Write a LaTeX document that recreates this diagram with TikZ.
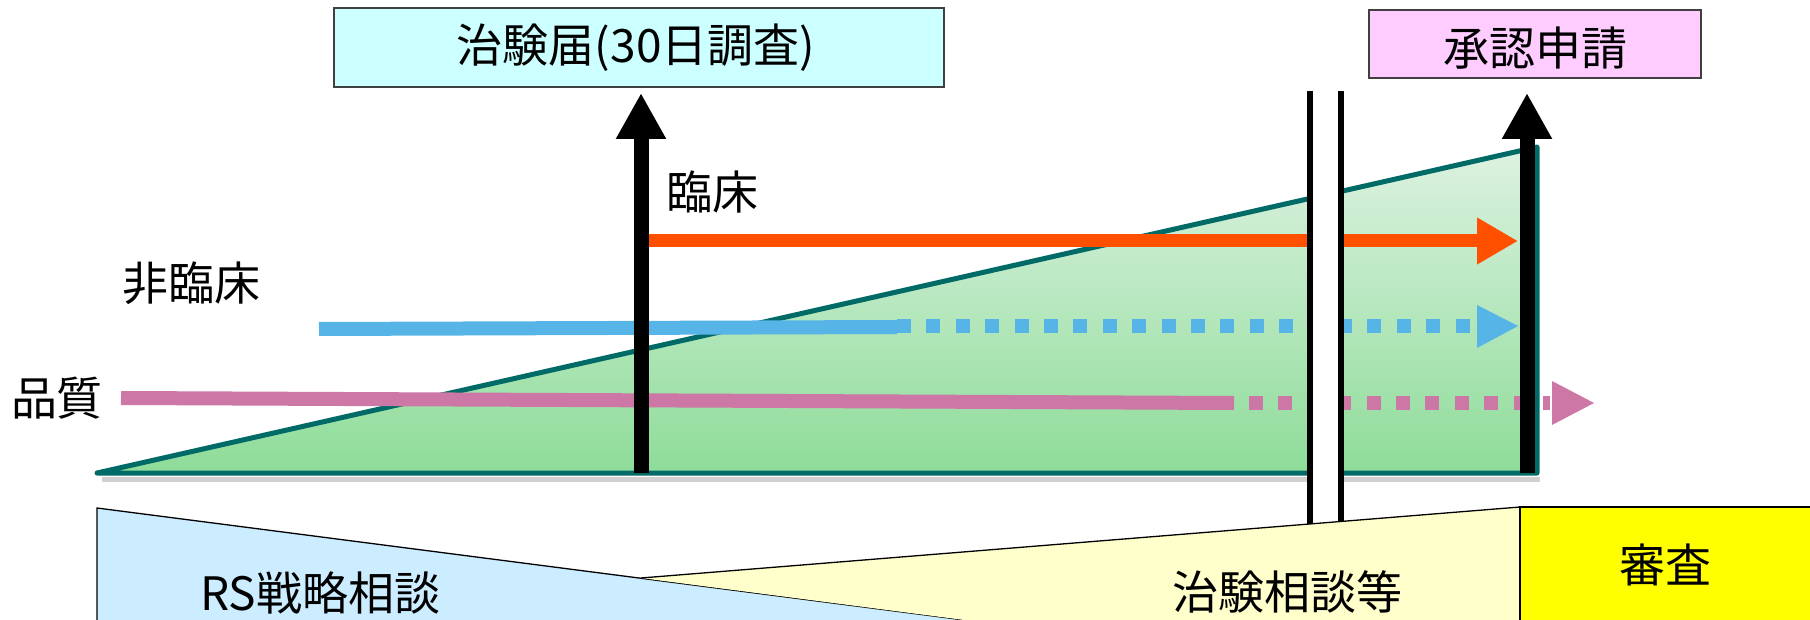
\documentclass[tikz,border=0pt]{standalone}
\usepackage{fontspec}
\newfontfamily\jp{Noto Sans CJK JP}
\usetikzlibrary{arrows.meta}
\definecolor{boxcyan}{HTML}{CCFFFF}
\definecolor{boxpink}{HTML}{FFCCFF}
\definecolor{tealedge}{HTML}{006B66}
\definecolor{gtop}{HTML}{DDF2E1}
\definecolor{gbot}{HTML}{8EDC99}
\definecolor{orng}{HTML}{FF5000}
\definecolor{skyb}{HTML}{56B4E6}
\definecolor{pnk}{HTML}{CC77A6}
\definecolor{lblue}{HTML}{CCECFF}
\definecolor{lyel}{HTML}{FFFFCC}
\definecolor{yel}{HTML}{FFFF00}
\begin{document}
\begin{tikzpicture}[x=1pt,y=-1pt,
  lbl/.style={font=\jp\fontsize{46}{55}\selectfont, inner sep=0pt, anchor=center},
  topbox/.style={draw=black!75, line width=1.2pt, inner sep=0pt, font=\jp\fontsize{46}{55}\selectfont},
  blackarrow/.style={line width=15pt, -{Triangle[length=46pt,width=47pt]}},
  flowline/.style={line width=14pt},
  dotline/.style={line width=14pt, dash pattern=on 14pt off 15.4pt},
  gapline/.style={line width=6.5pt, black},
  edge/.style={draw=black, line width=1.3pt}]
\useasboundingbox (0,0) rectangle (1810,620);
\clip (0,0) rectangle (1810,620);

% coordinates
\coordinate (T1) at (97,473);
\coordinate (T2) at (1537,147);
\coordinate (T3) at (1537,473);

% triangle shadow and body
\draw[black!18, line width=5pt] (102,479) -- (1540,479);
\shade[top color=gtop, bottom color=gbot] (T1) -- (T2) -- (T3) -- cycle;
\draw[tealedge, line width=5pt, line join=round, line cap=round] (T1) -- (T2) -- (T3) -- cycle;

% top boxes
\node[topbox, fill=boxcyan, minimum width=610pt, minimum height=79pt] (todoke) at (639,47.5) {};
\node[lbl] (todoketxt) at (636,48) {治験届(30日調査)};
\node[topbox, fill=boxpink, minimum width=332pt, minimum height=68pt] (shonin) at (1535,44) {};
\node[lbl] (shonintxt) at (1535,48) {承認申請};

% labels
\node[lbl] (rinsho) at (712,192) {臨床};
\node[lbl] (hirinsho) at (191,283) {非臨床};
\node[lbl] (hinshitsu) at (57,398) {品質};

% orange (clinical)
\coordinate (o1) at (641,241);
\coordinate (o2) at (1518,241);
\draw[orng, line width=13pt, -{Triangle[length=41pt,width=44pt]}] (o1) -- (o2);

% blue (non-clinical)
\coordinate (b1) at (319,329);
\coordinate (b2) at (897,327);
\coordinate (b3) at (1477,326);
\coordinate (b4) at (1518,326);
\draw[skyb, flowline] (b1) -- (b2);
\draw[skyb, dotline] (897,326) -- (1477,326);
\fill[skyb] (1477,305) -- (b4) -- (1477,348) -- cycle;

% pink (quality)
\coordinate (p1) at (121,398);
\coordinate (p2) at (1234,403);
\coordinate (p4) at (1594,403);
\draw[pnk, flowline] (p1) -- (p2);
\draw[pnk, dotline] (1249,403) -- (1550,403);
\fill[pnk] (1552,381) -- (p4) -- (1552,425) -- cycle;

% black arrows
\coordinate (a1s) at (641,473);
\coordinate (a1e) at (641,93);
\coordinate (a2s) at (1527,473);
\coordinate (a2e) at (1527,93);
\draw[blackarrow] (a1s) -- (a1e);
\draw[blackarrow] (a2s) -- (a2e);

% break (double lines)
\fill[white] (1310,91) rectangle (1341,528);
\draw[gapline] (1310,91) -- (1310,528);
\draw[gapline] (1341,91) -- (1341,528);

% bottom shapes
\fill[lblue] (97,508) -- (964,620) -- (97,625) -- cycle;
\draw[edge] (97,625) -- (97,508) -- (964,620);
\fill[lyel] (641,578) -- (1520,507) -- (1520,625) -- (964,620) -- cycle;
\draw[edge] (641,578) -- (1520,507);
\filldraw[fill=yel, draw=black, line width=1.3pt] (1520,625) -- (1520,507) -- (1815,507) -- (1815,625);
\node[lbl] (rs) at (320,593) {RS戦略相談};
\node[lbl] (chiken) at (1287,592) {治験相談等};
\node[lbl] (shinsa) at (1665,565) {審査};
\end{tikzpicture}
\end{document}
